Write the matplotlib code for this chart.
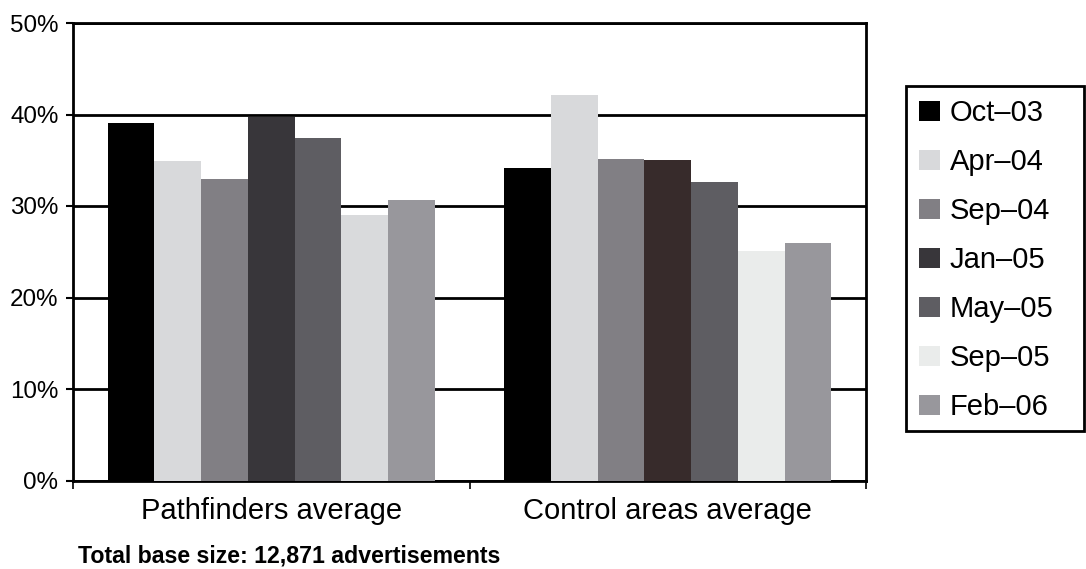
import numpy as np
import matplotlib
matplotlib.use("Agg")
import matplotlib.pyplot as plt
from matplotlib.patches import Patch, Rectangle

plt.rcParams['font.family'] = ['Liberation Sans', 'DejaVu Sans']

groups = ["Pathfinders average", "Control areas average"]
periods = ["Oct\u201303", "Apr\u201304", "Sep\u201304", "Jan\u201305", "May\u201305", "Sep\u201305", "Feb\u201306"]

pathfinders = [39.1, 34.9, 32.9, 39.7, 37.4, 29.0, 30.7]
control = [34.1, 42.1, 35.1, 35.0, 32.6, 25.1, 26.0]

# shades used in the legend, plus the slightly different fills of each group
legend_colors = ["#000000", "#d8d9db", "#817f84", "#38363a", "#5e5d62", "#eaeceb", "#98979c"]
pathfinder_colors = ["#000000", "#d8d9db", "#817f84", "#38363a", "#5e5d62", "#d9dadc", "#98979c"]
control_colors = ["#000000", "#d8d9db", "#817f84", "#372b2b", "#5e5d62", "#eaeceb", "#98979c"]

W, H = 1086, 569
fig = plt.figure(figsize=(W / 100, H / 100), dpi=100)
ax = fig.add_axes([73 / W, 1 - 480.5 / H, 793 / W, 457.5 / H])

n = len(periods)
width = 0.825 / n
x = np.arange(len(groups))
for i in range(n):
    vals = [pathfinders[i], control[i]]
    cols = [pathfinder_colors[i], control_colors[i]]
    ax.bar(x - 0.825 / 2 + width * (i + 0.5), vals, width, color=cols,
           linewidth=0, zorder=3)

ax.set_xlim(-0.5, 1.5)
ax.set_ylim(0, 50)
ax.set_yticks(np.arange(0, 51, 10))
ax.set_yticklabels([f"{v}%" for v in range(0, 51, 10)], fontsize=17.4)
ax.yaxis.grid(True, color="black", linewidth=2, zorder=1)
ax.set_axisbelow(True)

ax.set_xticks(x)
ax.set_xticklabels(groups, fontsize=21)
ax.tick_params(axis='x', length=0, pad=12)
ax.set_xticks([-0.5, 0.5, 1.5], minor=True)
ax.tick_params(axis='x', which='minor', length=6, width=1.2, direction='out')
ax.tick_params(axis='y', length=5, width=1.5, direction='out', pad=5.5)

for s in ax.spines.values():
    s.set_linewidth(2)
    s.set_color("black")

# legend entries, with a separate box drawn around them
handles = [Patch(facecolor=c, edgecolor='none') for c in legend_colors]
leg = fig.legend(handles, periods, loc='upper left',
                 bbox_to_anchor=(906 / W, 1 - 86 / H),
                 fontsize=21, frameon=False,
                 handlelength=0.72, handleheight=0.69, handletextpad=0.32,
                 labelspacing=0.72, borderpad=0.46, borderaxespad=0)
fig.patches.append(Rectangle((906 / W, 1 - 431 / H), 178 / W, 345 / H,
                             transform=fig.transFigure, fill=False,
                             edgecolor="black", linewidth=2))

fig.text(78 / W, 1 - 556 / H, "Total base size: 12,871 advertisements",
         fontsize=16.7, fontweight='bold', va='center', ha='left')

fig.savefig("out.png", dpi=100)
